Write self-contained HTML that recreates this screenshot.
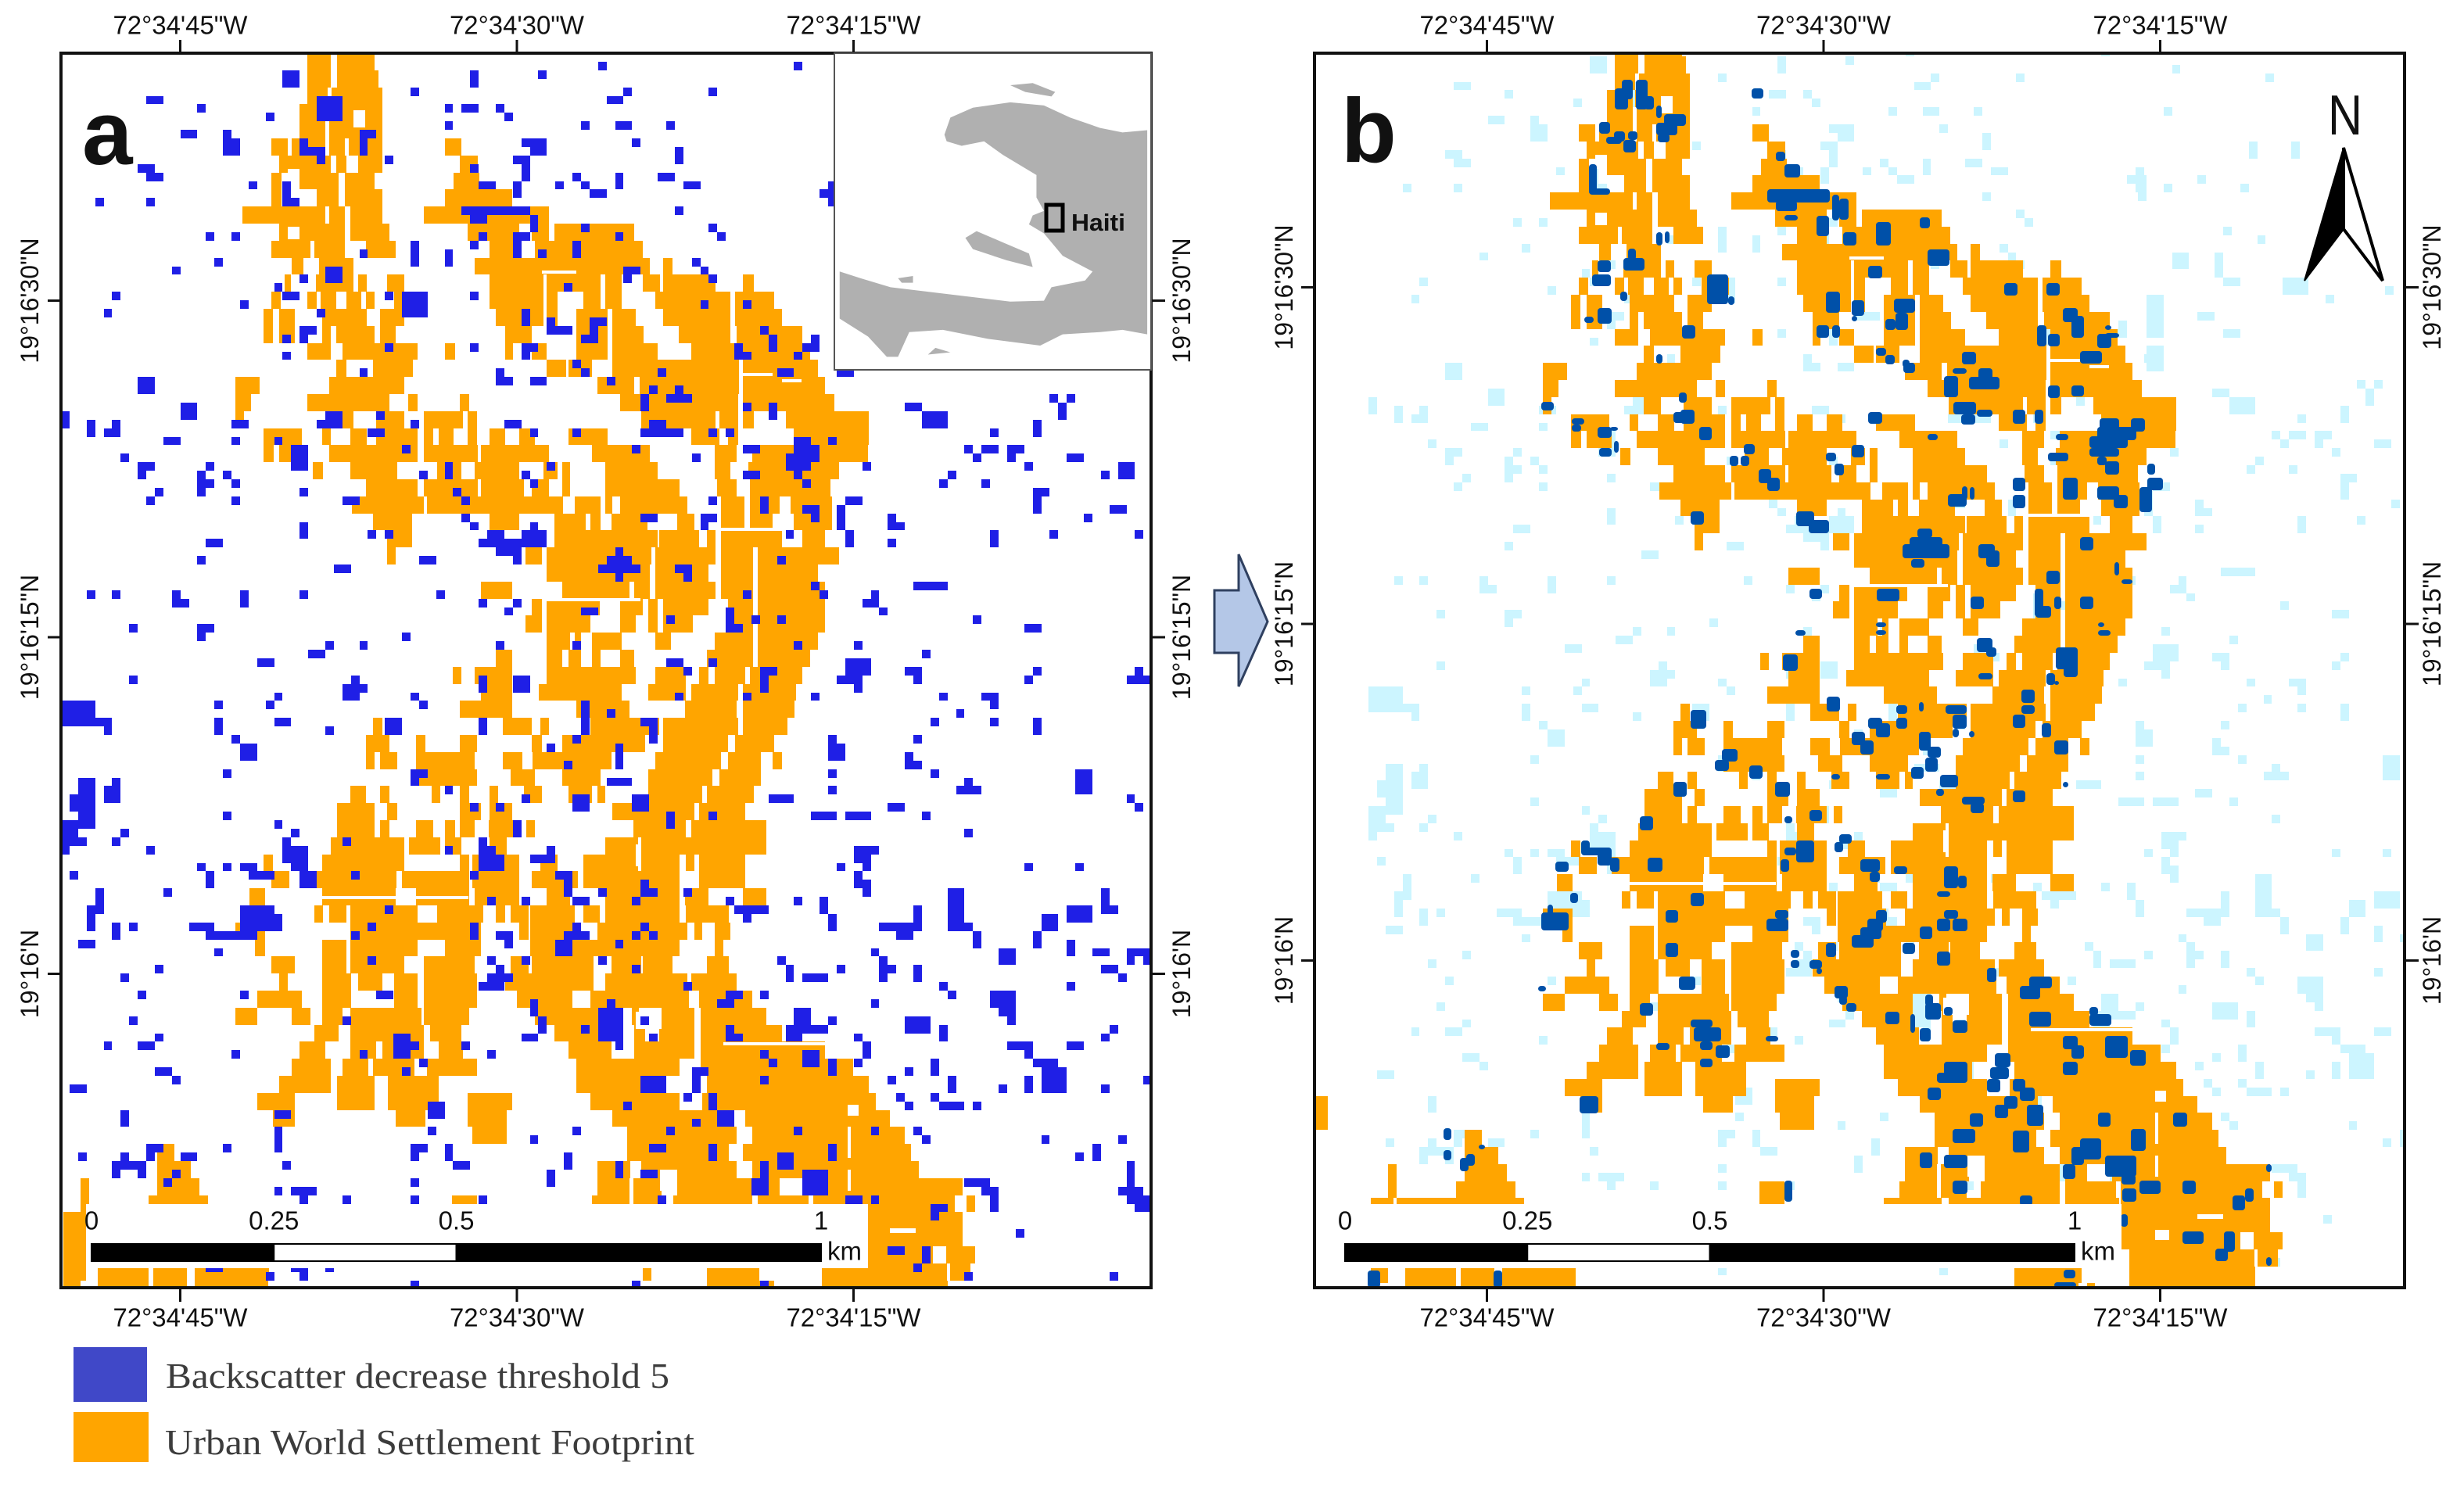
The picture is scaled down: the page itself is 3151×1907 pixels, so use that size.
<!DOCTYPE html>
<html lang="en">
<head>
<meta charset="utf-8">
<title>Backscatter decrease and urban footprint maps</title>
<style>
html,body{margin:0;padding:0;background:#fff}
svg{display:block}
text{font-family:"Liberation Sans",sans-serif;fill:#111}
.serif{font-family:"Liberation Serif",serif;fill:#3c3c3c}
</style>
</head>
<body>
<svg id="figure" xmlns="http://www.w3.org/2000/svg" width="3151" height="1907" viewBox="0 0 3151 1907">
  <rect width="3151" height="1907" fill="#fff"/>
  <defs>
    <clipPath id="clip-a"><rect x="78" y="68" width="1394" height="1579"/></clipPath>
    <clipPath id="clip-b"><rect x="1681" y="68" width="1394" height="1579"/></clipPath>
  </defs>
  <g id="panel-a"></g>
  <g id="panel-b"></g>

  <g>
    <rect x="1067" y="68" width="405" height="405" fill="#fff" stroke="#555" stroke-width="2"/>
    <g transform="scale(0.957,0.574)" fill="#b0b0b0">
      <polygon points="1262,300 1270,262 1300,240 1350,228 1395,235 1430,262 1470,285 1500,295 1533,290 1533,745 1500,735 1470,740 1420,745 1390,770 1320,755 1260,735 1215,740 1200,795 1185,795 1160,750 1122,710 1122,605 1150,620 1190,640 1240,650 1290,660 1350,672 1395,670 1405,640 1450,625 1460,605 1420,570 1395,520 1375,500 1380,480 1395,470 1385,440 1385,390 1340,345 1315,315 1285,325 1265,315"/>
      <polygon points="1290,530 1305,515 1340,540 1375,565 1380,595 1345,580 1300,555"/>
      <polygon points="1350,190 1380,185 1410,205 1405,215 1370,205"/>
      <polygon points="1200,620 1220,615 1220,630 1205,630"/>
      <polygon points="1250,775 1270,785 1240,790"/>
    </g>
    <rect x="1338" y="262" width="21" height="33" fill="none" stroke="#000" stroke-width="5"/>
    <text x="1370" y="295" font-size="31" font-weight="700" textLength="69" lengthAdjust="spacingAndGlyphs" fill="#222">Haiti</text>
  </g>

  <text x="105" y="210" font-size="116" font-weight="700" fill="#000">a</text>
  <text x="1715" y="207" font-size="116" font-weight="700" fill="#000">b</text>

  <g>
    <text x="2977" y="172" font-size="72" textLength="44" lengthAdjust="spacingAndGlyphs" fill="#000">N</text>
    <polygon points="2997,189 2947,359 2997,293" fill="#000" stroke="#000" stroke-width="2"/>
    <polygon points="2997,189 3047,359 2997,293" fill="#fff" stroke="#000" stroke-width="4"/>
  </g>

  <polygon points="1553,755 1584,755 1584,709 1621,795 1584,878 1584,835 1553,835" fill="#b4c7e7" stroke="#2f4060" stroke-width="3"/>

  <g>
    <rect x="94" y="1723" width="94" height="70" fill="#4048c8"/>
    <text class="serif" x="212" y="1775" font-size="46" textLength="644" lengthAdjust="spacingAndGlyphs">Backscatter decrease threshold 5</text>
    <rect x="94" y="1806" width="96" height="64" fill="#ffa500"/>
    <text class="serif" x="211" y="1860" font-size="46" textLength="677" lengthAdjust="spacingAndGlyphs">Urban World Settlement Footprint</text>
  </g>

  <script>
  // ---- chart data -------------------------------------------------------
  const lonSeconds = [45, 30, 15];
  const lonLabels = ['72°34\'45"W', '72°34\'30"W', '72°34\'15"W'];
  const latSeconds = [30, 15, 0];
  const latLabels = ['19°16\'30"N', '19°16\'15"N', '19°16\'N'];
  const scaleKm = [0, 0.25, 0.5, 1];
  const scaleLabels = ['0', '0.25', '0.5', '1'];

  // Urban footprint: [gridRow, startCol, endCol, startCol, endCol, ...], each band two rows tall
  const urbanBands = [
  [0,29.6,32.4,33.1,37.5],[2,29.6,32.4,33.1,38],[4,29.6,32,32.5,38.4],[6,28.7,31.7,32,38.4],[8,28.7,31.7,32.2,38.4],
  [10,25.4,27.3,27.8,31.7,32.2,34,34.5,38.4,45.8,47.7],[12,26.3,32.4,33,34.2,35.6,38.4,47.5,49.6],[14,25.4,26.6,28.7,33.3,34,37.5,46.8,49.8],
  [16,25.4,26.6,30.7,33.3,34,38.4,45.8,53.7],[18,22,24,24,31.7,32.2,34,34.7,38.4,43.3,47.7,47.5,58],[20,26.3,34,34.7,39.3,48.4,54.5,56,58,58.6,68],
  [22,25.4,30,30.5,34,36.5,40,51,54.5,56.3,69],[24,27.8,29.2,31,35,49.3,69.8,71.4,72.5],
  [26,27,27.7,30.6,35,35.6,36.6,39,41,51,57.3,57.7,64,64.6,66.5,69,71,71.4,77.5,80.7,82],
  [28,25.4,26.5,29.6,30.7,31.2,33,34.2,36,36.5,37.5,39.8,43,51,57.3,57.7,59,62,64,64.6,66.5,70.5,79.3,79.8,84.4],
  [30,24.5,25.6,26.3,28.2,31.4,36.6,38.2,41,51.7,57.3,57.7,59,61.2,64.9,65.4,68.2,71.4,79.3,79.8,85.3],
  [32,24.5,25.6,26.3,28.2,31.4,32.4,33,37.5,38.2,40,52.8,56,61.2,64.9,65.4,69.1,73.2,79.3,80,87.7],
  [34,29.6,32.4,33.8,42.6,45.8,47,52.8,53.8,56,57.7,61.2,64.9,65.4,70.7,74.7,80.3,80.7,88.6],
  [36,33,34.2,37.3,42,57.7,60,60.3,63,65.4,80.3,80.7,89.5],[38,21.2,24,32.2,41,63.7,68,68.6,80.3,80.7,90.4],
  [40,21.2,23,29.6,39.3,41.5,42.6,47.5,48.6,66.3,80.2,80.7,91.5],[42,21.2,22.2,33,35,37.7,41,43.3,47.9,48.4,49.5,68.8,77.5,78,80.2,80.7,82,85.8,95.5],
  [44,24.5,29,31.4,32.4,34.7,36.6,37.7,42.6,43.3,44.4,45,46.8,48.4,49.5,51,52.8,54.5,56.3,60.3,64.9,74.7,78,79,80.2,86.7,95.5],
  [46,24.5,25.7,26.3,29.3,32.2,42.6,43.3,49.6,50,58,63,69.8,77.4,80,81.8,95.4],
  [48,30.3,31.5,34.7,40.2,44.9,47.7,49.3,54.5,57.3,59,59.5,60.5,64.6,70.7,77.4,79.3,81.4,92],
  [50,36.5,42.6,43.3,49.6,50,55,56,58,59.5,60.5,64.6,73.3,77.7,80,81.6,91],
  [52,34.9,43.3,43.7,59.6,61,64,64.6,65.4,66.3,74.2,78.2,80.9,81.6,85,86.3,91.2],
  [54,37.3,41.9,51,54.5,58.6,62.3,62.8,64,65.3,69.5,73,75,78.2,80.9,81.6,84.2,86.7,91.2],
  [56,39,41.9,58.6,70.7,70.9,75.6,76.5,77.5,78.2,85.3,87.7,90.4],[58,39,40,55.2,57.2,57.7,70,70.5,77.5,78.2,81.9,82.5,92],
  [60,57.7,69.8,70.5,76.7,78.2,81.9,82.5,89.5],[62,50,53.7,59.5,67.4,68,69.8,70.5,77.5,78.2,81.9,82.5,90.4],
  [64,56,57.2,57.7,63.9,66.3,69,69.6,70.7,71.4,76.7,79,81.9,82.5,90.4],[66,55.2,57.2,57.7,62.8,66.3,68.2,69.6,70.7,71.4,74.9,79,81.9,82.5,90.4],
  [68,57.7,60.5,61,61.7,63,66.5,70.5,72.3,77.4,81.9,82.5,89.5],[70,51.7,53.7,57.7,59.5,60.3,61.7,63,64,66.3,68,76.5,81.9,82.5,88.6],
  [72,46.7,47.7,49.3,53.7,57.7,68.2,70.5,74,75.6,76.7,77.4,81,81.6,87.7],[74,50,53.7,56.8,66.5,69.6,74,74.7,80.2,80.7,87],
  [76,47.5,53.7,61.2,67.4,73.9,80,80.7,86.8],[78,37.3,38.4,52.6,56,57,58,62.8,70.9,71.4,80.2,80.7,86],
  [80,36.5,39.3,42.4,43.5,47.5,49.5,56,57.2,59.5,69.3,71.4,79,79.8,84.4],
  [82,36.5,37.5,38.2,40.2,42.4,49.3,52.6,54.9,56.1,60,60,65.3,70.5,78.2,79,82.8,84.2,85.3],
  [84,42.4,49.5,53.5,56.3,59.5,64,69.6,77.2,78,82.8],[86,34.7,36.5,38.2,39.3,44.2,45.2,47.5,48.6,51,52,55,57.2,60.3,63,63.7,64.6,69.6,76,76.5,82],
  [88,33.1,37.5,39,40.2,47.5,50,51,53.7,65.4,75,75.6,81],[90,33.1,37.5,38.2,39.3,42.4,44.4,45.8,47,47.5,49.3,50.9,54.5,55.3,56.3,67.9,74,74.7,83.5],
  [92,32.4,41,41.6,45.2,45.8,47.7,51,53,64.6,68.4,68.8,83.5],[94,24.5,25.6,31.4,41,47.5,48.6,49,54.5,57,59,62,68.4,68.8,73.3,74,75,75.6,81],
  [96,25.4,27.5,29.3,40.1,40.7,48.6,49,54.5,56,61.4,62,73.3,75.6,81],[98,22.8,24.7,31.4,40,42.4,48.6,49.3,54.5,57.7,60.5,64.6,73.3,73.9,76.7,80.7,83.5],
  [100,30.5,31.5,32.2,34.2,34.7,42.6,44.9,50.3,51.7,52.8,53.5,55.6,55.8,61,62,63.9,64.6,73.3,74,76.8,76.7,79.1],
  [102,21.2,24.7,34.7,44.2,44.2,50,54.5,55.6,55.8,61.5,63.7,74.2,75,76,77.4,79.3],[104,23.5,24.7,31.4,34.2,34.7,42.6,45.8,50,55.8,73.3,77.4,78.4],
  [106,25.4,28.2,31.4,34.2,34.7,41,43.3,49.3,53.5,55.6,56,63.2,65.3,68.8,69,72.5,76.5,79.1],
  [108,26.3,27.3,31.4,34.8,35.6,38.4,39.8,42.6,43.3,49.5,52.8,58,58,63.2,64.6,74.2,74.7,80],
  [110,23.8,29,31.4,34.8,39.8,42.6,43.3,49.5,54.2,60.7,62.8,74.4,75.6,81.8],
  [112,21.2,23.8,27.8,30,31.4,33.8,34.7,43,43.3,48.6,56.3,64.6,67.7,68.5,71.2,75,75.8,83.5],
  [114,30.5,33.3,34.7,43.3,44,47.7,58.6,64.6,68,69.3,70.9,75,75.8,85.3],[116,28.7,31.7,34.7,37.7,38.4,43.3,45,47.9,60.3,65.3,68,75,75.8,90.4],
  [118,27.8,32.4,33.8,36.8,37.3,42.2,43.7,49.5,61.2,73.3,75.8,93.7],[120,26.3,32.4,33.1,37.5,39.1,45,61.2,71.6,76.5,95.5],
  [122,23.8,28.2,33.1,37.5,39.1,45,48.4,53.7,62.8,73.3,76,96.3],[124,-6,-4,25.6,28.2,40,43.5,48.4,53,65.4,79.3,81,98],
  [126,-6,-4,49,53,67.2,80,81.8,99.7],[128,12,14,67.2,79.1,80.7,100.5],[130,12,16,63.7,67.5,68.8,80,81.8,101.4],
  [132,3,4,12,17,63.7,67.4,67.9,71.2,73,81.8,82.5,85,88,106.5],[134,3,4,11,18,46.6,49.5,63,67.4,67.9,70.9,72.6,81.8,82.5,88.4,89,105.6,107,108],
  [136,1,3.7,4,19,46.6,49.5,61.2,68,68.8,81.8,82.5,88.8,89,106.5],[138,1,3.7,89,106.5],[140,1,3.7,89,103,104.6,108],
  [142,1,3.7,5,11,11.6,15.5,16.4,25.1,69,70,76.5,82.7,90,102.4,102.4,104.7,105,107.4],[144,1,3,5,11,11.6,15.5,16.4,25,76.5,84.4,90,104.8],
  [146,5,11,11.6,15.5,16.4,25,76.5,84,85,86,90,104.8]
  ];

  // Road gaps and holes through the footprint: [col, row, widthCols, heightRows]
  const roadGaps = [[57.2,25.5,4,.4],[80.7,37.5,3.5,.35],[85.3,38.3,2.3,.35],[78.2,55.7,7.5,.4],[57.7,63.9,11,.4],[30.5,98.9,18,.4],[78.4,116.1,12,.35],[93,126,.35,3.6],[93,131,.35,2.5],[68.2,92.8,.4,2.6],[93,123.4,1.3,1.3],[68.2,112.5,3,2],[71,131,2,2.5],[93,139.7,1.7,1.2],[98,137.9,3,.5],[27.3,20.4,1.4,1.4],[35,6.7,1.4,2],[27.3,13.6,1.4,1.6]];

  // Backscatter decrease cells: [col, row, widthCols, heightRows]
  const decreaseCells = [
  [26,2,2,2],[10,5,2,1],[30,5,3,3],[41,4,1,1],[48,2,1,2],[56,2,1,1],[63,1,1,1],[86,1,1,1],[66,4,1,1],[64,5,2,1],[76,4,1,1],[16,6,1,1],[24,7,1,1],[45,6,1,1],[47,6,2,1],[51,6,1,1],[52,7,1,1],[45,8,1,1],[61,8,1,1],[65,8,2,1],[71,8,1,1],[14,9,2,1],[19,9,1,1],[19,10,2,2],[35,9,2,1],[35,10,1,2],[28,10,1,1],[28,11,3,1],[30,12,1,1],[54,10,2,1],[56,10,1,2],[55,11,2,1],[67,10,1,1],[72,11,1,2],[38,12,1,1],[53,12,2,1],[54,13,1,1],[48,13,1,1],[9,13,2,1],[10,14,2,1],[22,15,1,1],[26,15,1,3],[26,17,2,1],[4,17,1,1],[10,17,1,1],[54,14,1,1],[53,15,1,2],[49,15,2,1],[58,15,1,1],[60,14,1,1],[61,15,1,1],[62,16,2,1],[65,14,1,2],[70,14,2,1],[73,15,2,1],[90,15,1,3],[89,16,1,1],[72,18,1,1],[47,18,8,1],[48,19,2,1],[55,19,1,2],[76,20,1,1],[77,21,1,1],[61,20,1,1],[53,21,2,1],[53,22,1,2],[49,21,1,1],[48,22,1,1],[65,21,1,1],[17,21,1,1],[20,21,1,1],[41,22,1,3],[45,23,1,2],[60,22,1,2],[56,23,1,1],[35,23,1,1],[18,24,1,1],[13,25,1,1],[74,24,1,1],[75,25,1,1],[76,26,1,1],[66,25,2,1],[66,26,1,1],[31,25,2,2],[28,26,1,1],[25,27,1,1],[6,28,1,1],[5,30,1,1],[26,28,2,1],[38,28,1,1],[40,28,3,3],[48,28,1,1],[59,27,1,1],[21,29,1,1],[30,30,1,1],[54,30,1,2],[75,29,1,1],[80,29,1,1],[62,31,2,1],[62,32,1,2],[57,31,1,2],[57,32,3,1],[61,33,1,1],[28,32,2,1],[28,33,1,1],[26,33,1,1],[82,32,1,1],[83,33,1,2],[38,34,1,1],[48,34,1,1],[54,34,2,1],[54,35,1,1],[79,34,1,2],[80,35,1,1],[88,33,1,1],[87,34,2,1],[86,35,1,1],[26,35,1,1],[60,36,1,1],[61,37,1,1],[64,38,1,1],[70,37,1,1],[35,37,1,1],[84,37,2,1],[91,37,2,1],[51,37,1,2],[51,38,2,1],[55,38,2,1],[9,38,2,2],[68,40,1,2],[69,39,1,1],[72,39,1,1],[71,40,3,1],[99,41,2,1],[116,40,1,1],[118,40,1,1],[117,41,1,2],[14,41,2,2],[80,41,1,1],[83,41,1,2],[37,42,1,1],[31,42,2,1],[30,43,3,1],[101,42,3,2],[0,42,1,2],[3,43,1,2],[6,43,1,1],[5,44,2,1],[20,43,2,1],[41,43,1,1],[52,43,2,1],[114,43,1,2],[69,43,2,1],[68,44,5,1],[36,44,2,1],[55,44,1,1],[60,44,1,1],[76,44,1,1],[78,44,1,1],[109,44,1,1],[12,45,2,1],[20,45,1,1],[25,45,1,1],[86,45,2,1],[86,46,3,2],[90,45,1,1],[85,47,3,2],[86,49,1,1],[27,46,2,3],[40,46,1,1],[67,46,1,1],[80,46,2,1],[106,46,1,1],[107,47,1,1],[108,46,2,1],[111,46,2,1],[111,47,1,1],[7,47,1,1],[74,47,1,1],[118,47,2,1],[9,48,2,1],[9,49,1,1],[17,48,1,1],[16,49,1,3],[17,50,1,1],[19,49,1,1],[20,50,1,1],[45,48,1,2],[57,48,1,1],[94,48,1,1],[113,48,1,1],[124,48,2,2],[80,49,2,1],[42,49,1,1],[54,49,1,1],[55,50,1,1],[104,49,1,1],[103,50,1,1],[122,49,1,1],[108,50,1,1],[87,50,1,1],[11,51,1,1],[10,52,1,1],[28,51,1,1],[46,51,1,1],[114,51,2,1],[114,52,1,2],[20,52,1,1],[33,52,2,1],[47,52,1,1],[76,52,1,1],[82,52,1,2],[92,52,2,1],[91,53,1,3],[123,53,2,1],[87,53,2,1],[88,54,1,1],[68,54,2,1],[75,54,2,1],[75,55,1,1],[47,54,1,1],[97,54,1,1],[97,55,2,1],[120,54,1,1],[48,55,1,1],[55,55,1,1],[54,56,3,2],[50,56,2,1],[49,57,5,1],[51,58,3,1],[53,59,1,1],[36,56,1,1],[38,56,1,1],[28,55,1,2],[85,56,1,1],[92,56,1,2],[97,57,1,1],[109,56,1,2],[116,56,1,1],[126,56,1,1],[17,57,2,1],[65,58,1,1],[64,59,3,1],[63,60,5,1],[65,61,1,1],[72,60,2,1],[73,61,1,1],[84,59,1,1],[16,59,1,1],[42,59,2,1],[32,60,2,1],[88,62,1,1],[89,63,1,1],[100,62,4,1],[3,63,1,1],[6,63,1,1],[13,63,1,1],[13,64,2,1],[21,63,1,2],[28,63,1,1],[44,63,1,1],[80,63,1,1],[95,63,1,1],[94,64,2,1],[53,64,1,1],[49,64,1,1],[52,65,1,1],[61,65,2,1],[78,65,1,2],[78,67,2,1],[96,65,1,1],[71,66,1,1],[81,66,1,1],[84,66,1,1],[107,66,1,1],[8,67,1,1],[16,67,2,1],[16,68,1,1],[113,67,2,1],[40,68,1,1],[31,69,1,1],[29,70,2,1],[35,69,1,1],[51,69,1,1],[60,69,1,1],[86,69,1,1],[93,69,1,1],[101,70,1,1],[23,71,2,1],[71,71,2,1],[73,72,1,1],[76,71,1,1],[92,71,3,2],[91,73,3,1],[93,74,1,1],[82,72,2,1],[82,73,1,2],[99,72,2,1],[100,73,1,1],[114,72,1,1],[113,73,1,1],[126,72,1,1],[125,73,3,1],[8,73,1,1],[34,73,1,1],[33,74,3,1],[33,75,2,1],[49,73,1,2],[53,73,2,2],[25,75,1,1],[41,75,1,1],[42,76,1,1],[72,75,1,1],[80,75,1,1],[88,75,1,1],[103,75,1,1],[108,75,2,1],[109,76,1,1],[2,76,2,1],[18,76,1,1],
  [0,76,4,3],[4,78,2,1],[5,79,1,1],[18,78,1,2],[24,76,1,1],[25,78,2,1],[31,79,1,1],[38,78,2,2],[49,78,1,2],[61,76,1,4],[64,77,1,1],[68,78,2,1],[69,79,1,2],[60,80,1,1],[20,80,1,1],[21,81,2,2],[90,81,2,2],[90,80,1,1],[114,78,1,2],[105,77,1,1],[102,78,1,1],[109,78,1,1],[100,80,1,1],[99,82,1,2],[100,83,1,1],[102,84,1,1],[57,81,1,1],[59,83,1,1],[65,81,1,3],[19,84,1,1],[90,84,1,1],[41,84,2,1],[41,85,1,1],[64,85,3,1],[2,85,2,6],[1,87,1,2],[5,86,2,2],[6,85,1,1],[106,85,1,1],[105,86,3,1],[119,84,2,3],[90,86,1,1],[45,86,1,1],[83,87,2,1],[85,87,1,1],[60,87,2,2],[67,87,2,2],[54,87,1,1],[48,88,1,1],[51,88,1,1],[125,87,1,1],[126,88,1,1],[19,89,1,1],[88,89,3,1],[92,89,3,1],[97,88,2,1],[101,89,1,1],[71,89,1,2],[76,89,1,1],[53,90,1,1],[25,90,1,1],[27,91,1,1],[26,92,1,1],[7,91,1,1],[6,92,1,1],[0,90,2,2],[0,92,3,1],[0,93,1,1],[10,93,1,1],[33,92,1,1],[53,91,1,1],[49,92,1,2],[106,91,1,1],[93,93,3,1],[93,94,2,1],[91,95,1,1],[94,95,1,1],[45,93,1,1],[56,94,2,1],[57,93,1,1],[55,94,1,1],[26,93,3,2],[27,95,2,1],[28,96,2,2],[49,94,3,2],[50,93,1,1],[113,95,1,1],[119,95,1,1],[16,95,1,1],[17,96,1,2],[19,95,1,1],[21,95,2,1],[22,96,3,1],[1,96,1,1],[34,96,1,1],[48,96,1,1],[58,96,2,1],[59,97,1,2],[93,96,1,2],[94,97,1,2],[60,99,2,1],[63,98,1,1],[68,97,1,2],[69,98,1,1],[73,98,1,1],[4,98,1,3],[3,100,1,3],[12,98,1,1],[54,99,1,1],[67,99,1,1],[50,99,1,1],[78,99,1,1],[79,100,4,1],[80,101,1,1],[86,99,1,1],[89,99,1,2],[90,101,1,2],[104,98,2,4],[104,102,3,1],[107,103,1,2],[122,98,1,3],[123,100,1,1],[118,100,3,2],[115,101,2,2],[114,103,1,2],[100,100,1,2],[96,102,5,1],[98,103,2,1],[118,104,1,2],[21,100,4,1],[21,101,5,2],[15,102,3,1],[17,103,2,1],[18,103,5,1],[18,105,1,1],[38,100,1,1],[6,102,1,2],[8,102,1,1],[36,102,1,1],[48,102,1,2],[34,103,1,1],[51,103,2,1],[52,104,1,1],[59,103,2,1],[60,102,1,1],[58,104,2,2],[67,103,1,1],[69,103,1,1],[68,102,1,1],[61,103,1,1],[2,104,2,1],[65,104,1,1],[95,105,1,1],[96,106,1,1],[110,105,2,2],[121,105,2,1],[125,105,3,1],[125,106,1,1],[127,106,1,1],[36,106,1,1],[50,106,1,1],[54,106,1,1],[63,106,1,1],[84,106,1,1],[85,107,1,2],[11,107,1,1],[67,107,1,1],[91,107,1,1],[96,107,2,1],[96,108,1,1],[100,107,1,2],[122,107,2,1],[124,108,1,1],[51,107,1,1],[50,108,3,1],[49,109,3,1],[87,108,3,1],[7,108,1,1],[73,109,1,1],[103,109,1,1],[104,110,1,1],[118,109,1,1],[9,110,1,1],[21,110,1,1],[37,110,2,1],[78,110,2,1],[77,111,2,1],[82,110,1,1],[95,111,1,1],[109,110,3,2],[110,112,2,1],[111,113,1,1],[55,111,1,2],[56,113,1,2],[63,112,3,4],[64,111,1,1],[65,116,1,1],[86,112,2,2],[85,114,2,2],[87,114,2,1],[68,113,1,1],[90,113,1,1],[33,113,1,1],[8,113,1,1],[99,113,3,2],[103,114,1,2],[89,114,1,1],[78,114,1,1],[78,115,2,1],[61,114,1,1],[123,114,1,1],[122,115,1,1],[11,115,1,1],[9,116,2,1],[69,115,1,1],[54,115,2,1],[93,115,1,1],[94,116,1,2],[39,115,2,2],[39,117,2,1],[40,116,2,1],[5,116,1,1],[47,116,1,1],[111,116,3,1],[113,117,1,1],[118,116,2,1],[20,117,1,1],[35,117,1,1],[50,117,1,1],[82,117,1,1],[83,118,1,1],[87,117,2,2],[114,118,3,1],[115,119,3,3],[93,118,1,1],[90,118,1,2],[42,118,1,1],[40,119,1,1],[11,119,2,1],[13,120,1,1],[74,119,2,1],[74,120,1,2],[99,119,1,1],[102,118,1,2],[104,120,1,2],[82,120,1,1],[97,120,1,1],[127,120,1,1],[68,120,3,2],[73,122,1,1],[1,121,2,1],[110,121,1,1],[113,120,1,2],[122,121,1,1],[98,122,1,1],[99,123,1,1],[102,122,1,1],[103,123,3,1],[107,123,1,1],[76,122,1,2],[66,123,1,1],[43,123,2,2],[25,124,2,1],[7,124,1,2],[74,125,1,1],[77,124,2,2],[100,126,1,1],[101,127,1,1],[43,126,1,1],[60,126,1,1],[71,126,1,1],[86,126,1,1],[95,126,1,1],[25,126,1,3],[115,127,1,1],[124,127,1,1],[55,127,1,1],[41,128,2,1],[41,129,1,1],[10,128,2,1],[10,129,1,1],[19,128,1,1],[69,128,2,1],[45,128,1,2],[76,128,1,2],[90,128,1,2],[14,129,2,1],[2,129,1,1],[7,129,1,1],[6,130,4,1],[6,131,1,1],[9,131,1,1],[84,129,2,2],[59,129,1,2],[121,128,1,2],[119,129,1,1],[46,130,2,1],[82,130,1,2],[81,132,2,2],[26,130,1,1],[65,130,1,2],[68,131,2,1],[87,131,3,3],[125,130,1,3],[124,133,3,1],[125,134,3,1],[126,135,2,1],[13,131,1,1],[12,132,1,1],[57,131,1,2],[41,132,1,1],[106,132,3,1],[108,133,2,1],[109,134,1,2],[27,133,3,1],[28,134,1,1],[25,133,1,1],[33,134,1,1],[41,134,1,1],[49,134,1,1],[70,134,1,1],[92,134,2,1],[95,134,1,1],[102,135,2,1],[102,136,1,1],[112,138,1,1],[97,140,2,1],[101,140,1,2],[100,142,1,1],[17,142,2,1],[27,142,2,1],[28,143,1,1],[31,142,1,1],[24,143,1,1],[106,143,1,1],[123,143,1,1],[41,144,1,1],[67,144,1,1],[82,144,1,1]
  ];

  // Decrease cells that the inset hides in panel a but panel b shows
  const insetHiddenCells = [[95,3,1,1],[106,4,1,1],[94,8,1,1],[91,16,1,3],[94,17,1,1],[98,16,1,1],[103,17,1,1],[104,12,1,2],[109,12,1,2],[101,22,1,1],[105,23,1,1],[95,25,2,2],[100,25,1,3],[101,28,2,1],[108,28,3,2],[113,30,1,1],[120,29,1,1],[92,30,2,5],[98,32,2,1],[101,34,2,1],[92,36,2,3]];

  // Decreases intersecting the urban footprint in panel b: [col, row, widthCols, heightRows]
  const urbanDamageBlobs = [
  [30.5,4.8,1.2,2.3],[29.6,5.8,1.6,2.5],[32.1,4.8,1.4,3.5],[33.1,6.7,1.1,1.6],[34.5,7.8,.6,1.5],[35.4,8.8,2.6,1.4],[34.5,9.8,2.5,1.5],[34.7,11.1,1.4,1],[27.8,9.7,1.3,1.4],[28.6,11.5,1.9,.8],[29.5,10.8,1.3,1.2],[31.2,10.8,1.1,1],[30.6,11.8,1.5,1.5],[26.6,14.7,.9,3.4],[26.6,17.5,2.5,.8],[48.5,13.2,1.1,1.1],[49.5,14.7,1.9,1.5],[47.5,17.6,7.4,1.6],[48.5,19,2.5,1.2],[49.5,20.6,1.6,.7],[55.1,18.3,.9,3],[56,18.7,1.1,2.5],[53.3,20.7,1.5,2.4],[56.4,22.7,1.6,1.5],[60.3,21.5,1.7,2.7],[65.4,20.9,1.2,1.3],[66.3,24.7,2.6,1.9],[45.7,5.8,1.4,1.2],[34.5,22.7,.7,1.5],[35.5,22.6,.6,1.3],[31.2,24.6,.9,1.4],[30.6,25.7,2.5,1.5],[27.6,26,1.6,1.3],[27,27.6,2.2,1.4],[30.3,29.6,.8,1.1],[40.5,27.6,2.4,3.5],[42.9,30.2,.8,1],[27.6,31.6,1.7,1.8],[26.1,32.6,1.1,.7],[37.5,33.6,1.6,1.5],[34.5,37,.7,1.1],[54.4,29.6,1.7,2.5],[57.4,30.6,1.5,1.9],[57.4,32.5,.7,.6],[62.4,30.5,2.5,1.6],[62.6,32.1,1.4,2],[61.4,32.8,1.2,1.3],[53.3,33.6,1.5,1.4],[55.1,33.6,1,1.4],[60.3,36.2,1.2,1],[61.4,37.1,1.1,1.1],[63.4,37.6,.8,.9],[63.5,38,1.4,1.2],[70.4,36.7,1.6,1.5],[69.3,38.6,1.6,.7],[68.3,39.5,1.6,2.5],[72.3,38.6,1.6,1.4],[71.2,39.6,3.6,1.5],[69.4,42.6,2.6,1.4],[70.3,44,1.6,1.2],[72.1,43.5,1.8,.8],[59.4,43.8,1.6,1.3],[66.3,46.3,1.2,.8],[37.2,41.5,.9,1.2],[36.5,43.8,1.2,1.2],[37.3,43.5,1.7,1.6],[39.5,45.5,1.5,1.6],[21,42.6,1.5,1],[24.6,44.5,1.5,.7],[24.6,45.2,1.1,.9],[27.6,45.5,1.7,1.3],[29.1,45.5,.9,.5],[29.5,47.2,.6,1.3],[27.8,48,1.5,1],[44.8,47.5,1.3,1.2],[43.1,48.9,1,1.2],[44.4,48.9,1,1.2],[54.4,48.5,1.2,1],[55.4,49.8,1.1,1.4],[57.4,47.6,1.5,1.5],[46.5,50.5,1.5,1.6],[47.5,51.5,1.5,1.5],[70.4,52.5,.6,1.5],[68.7,53.4,2.2,1.5],[71.3,52.6,.5,1.4],
  [75.3,28.6,1.6,1.5],[80.3,28.6,1.5,1.5],[82.2,31.6,1.7,1.6],[83.2,32.5,1.5,2.5],[79.2,33.6,1.1,2.5],[80.5,34.6,1.3,1.5],[87.2,33.6,.7,.5],[86.2,34.6,1.7,1.6],[87.2,34.5,1.6,.5],[84.2,36.6,2.6,1.5],[80.5,40.6,1.3,1.5],[83.2,40.6,1.5,1.3],[76.3,43.5,1.5,1.6],[78.9,43.5,1,1.6],[86.5,44.5,2.3,2.1],[90.2,44.5,1.6,1.6],[86.2,45.5,4.6,1.6],[85.3,46.6,4.5,1.4],[85.3,48,3.5,1],[86.2,49,1.1,1],[87.2,49.5,1.6,1.6],[81.4,46.3,1.4,.8],[80.5,48.5,2.3,1],[92.1,49.8,.9,1.3],[92.1,51.5,1.8,1.4],[91.2,52.6,1.5,2.9],[82.2,51.5,1.7,2.5],[86.2,52.5,2.6,1.5],[88.2,53.5,1.6,1.5],[76.3,51.5,1.5,1.5],[76.3,53.5,1.5,1.5],[59.4,26.6,1.6,1.5],
  [38.5,55.4,1.6,1.6],[50.9,55.4,2.1,1.8],[52.4,56.4,2.4,1.6],[65.1,57.4,1.8,1.1],[64.2,58.4,3.9,1.2],[63.4,59.3,5.5,1.6],[64.4,61,1.6,1],[72.3,59.3,1.9,1.6],[73.2,60,1.6,1.9],[84.2,58.4,1.6,1.6],[80.3,62.4,1.5,1.5],[88.3,61.4,.5,1.5],[89.1,63.4,1.3,.5],[78.9,64.5,1,3.3],[79,66.5,1.8,1.4],[81.2,65.4,.8,1.5],[84.2,65.4,1.6,1.5],[71.4,65.4,1.5,1.5],[60.4,64.5,2.6,1.5],[86.3,68.4,.8,.6],[86.3,69.4,1.5,.6],[60.3,68.4,1.2,.6],[60.3,69.4,1.2,.5],[50.8,69.4,1.2,.6],[72.1,70.3,1.8,1.6],[73.2,71.4,1.2,1.1],[81.4,71.4,2.5,2.5],[82.3,73.3,1.6,1.6],[80.3,74.4,1,1.4],[81.2,75.3,.5,.5],[72.3,74.4,1.6,.7],[77.3,76.3,1.6,1.6],[77.3,78.2,1.6,1],[76.3,79.3,1.5,1.5],[79.7,80.3,1.1,1.6],[81.2,82.3,1.6,1.6],[68.4,78.2,2.5,1],[69.3,79.3,1.6,1.6],[69.3,80.9,.7,1],[71.2,81.2,.6,.7],[65.3,81.3,1.4,2.2],[66.3,83,1.6,1.3],[66.1,84.3,1.4,1.7],[64.4,85.4,1.5,1.4],[60.3,86.2,1.6,.7],[67.8,86.3,2.1,1.5],[67.3,88,1,.8],[70.4,88.9,2.6,.9],[71.4,89.6,1.5,1.2],[76.3,88.2,1.5,1.3],[82.2,87.2,.6,.6],[62.7,78.2,1.2,1],[62.7,79.6,1.2,1.3],[65.3,77.8,.6,1.1],[59.4,79.6,1.6,1.3],[60.3,80.3,1.6,1.6],[57.4,81.3,1.6,1.5],[58.4,82.3,1.6,1.6],[54.5,77.2,1.6,1.7],[38.5,78.7,1.9,2.2],[49.4,72.2,1.7,1.9],[52.5,64.5,1.4,1.2],[42.2,83.3,1.8,1.5],[41.4,84.6,1.6,1.3],[45.4,85.2,1.6,1.6],[36.5,87.2,1.6,1.7],[48.4,87.2,1.8,1.7],[55,86.2,1.1,.7],[32.6,91.2,1.5,1.6],[49.5,91.2,1,.8],[52.5,90.5,1.4,1.2],[56,93.3,1.4,1.1],[55.4,94.2,1,1.2],[25.7,94,1,1.6],[25.7,94.9,3.4,.9],[27.6,94.9,1.7,2.1],[29.1,96.1,1.1,1.6],[22.7,96.5,1.5,1.2],[33.5,96.1,1.7,1.6],[50.9,94,2.1,2.6],[49.5,94.9,1.4,.9],[49.1,96.2,1,1.5],[58.4,96.2,2.3,1.5],[59.5,97.7,1.2,1.2],[62.4,97.1,1.5,.9],[68.3,97.1,1.6,2.5],[69.9,98.2,1,1.4],[67.4,100,1.6,.6],[38.5,100.2,1.6,1.5],[35.6,102.2,1.5,1.5],[24.4,100.2,.9,1.2],[21.7,101.6,.7,1.2],[21,102.5,3.2,2.1],[47.4,103.2,2.6,1.5],[48.4,102.2,1.6,1],[60.3,102.2,1.3,1.5],[59.3,103.2,1.8,1.5],[58.4,104.2,2.5,1.4],[57.4,105.1,2.6,1.5],[68.3,102.2,1.6,1],[67.4,103.2,1.6,1.5],[69.3,103.2,1.7,1.5],[65.4,104.1,1.5,1.5],[63.4,106.1,1.5,1.2],[67.4,107.1,1.6,1.6],[35.6,106.1,1.5,1.6],[54.4,106.1,1.2,1.6],[50.3,106.9,1,.9],[50.3,108.1,1,.9],[52.5,108.1,1.4,1],[53.3,109,.6,.7],
  [55.4,111.1,1.6,1.5],[56.8,113.1,1.2,1],[56,112.3,.9,1],[37.2,110,1.9,1.6],[32.6,113.1,1.5,1.5],[20.6,111.1,1,.6],[61.4,114.1,1.6,1.5],[64.3,114.4,.6,2.2],[66.1,112.1,.9,1.4],[66.1,113.1,1.8,1.9],[68.3,113.6,1,1],[69.3,115.1,1.7,1.5],[65.4,116.1,1.3,1.5],[38.5,115,2.6,1],[38.9,116,3.2,1.6],[39.6,117.6,1.5,1],[41.5,118.1,1.6,1.4],[39.6,119.6,1.5,1],[47.3,117,1.5,.6],[34.5,117.8,1.6,.8],[25.5,124,2.2,2.1],[68.3,120,2.7,2.5],[67.4,121.3,1.6,1.2],[66.3,123,1.6,1.5],[71.3,126.1,1.5,1.5],[69.3,127.9,2.6,1.6],[65.4,130.6,1.5,1.9],[68.3,130.9,2.7,1.6],[69.3,133.9,1.7,1.6],[49.5,133.9,1,2.5],
  [73.3,109,1.1,1.6],[78.3,110,2.6,1.4],[77.2,111.1,2.3,1.6],[78.3,114.1,2.5,1.8],[85.3,114.4,2.6,1.4],[85.3,113.6,1,1],[82.2,117,1.7,1.5],[83.2,118.1,1.5,1.5],[82.2,120,1.7,1.6],[87.2,117,2.6,2.5],[90.1,118.6,1.8,1.9],[74.2,119,1.9,1.6],[73.7,120.6,2.2,1.4],[73.3,122,1.6,1.6],[76.3,122,1.5,1.5],[77.2,123,1.7,1.6],[75.3,124,1.6,1.5],[74.2,125,1.6,1.6],[78,125,1.9,2.5],[86.3,126,1.5,1.6],[95.1,126,1.7,1.6],[90.2,127.9,1.7,2.6],[84.2,129,2.5,2.5],[83.2,130,1.5,2.1],[82.2,132,1.5,1.8],[87.2,131,3.6,2.5],[89.1,133.2,1.6,1.2],[89.2,134.9,1.6,1.5],[91.2,133.9,2.5,1.6],[96.2,133.9,1.6,1.6],[76.3,128.1,2,2.5],[77.2,135.7,1.4,1.2],[103.6,134.9,1,1.5],[102.1,135.7,1.5,1.7],[106.1,132,.6,.9],[89,137.9,.8,1.5],[96.2,139.9,2.5,1.5],[101.1,139.9,1.3,2.4],[100.1,141.9,1.5,1.5],[106.1,142.9,.6,1],[82.3,144.4,1.4,1],[81.2,145.9,2.6,.6],[.6,144.5,1.5,2],[15.4,144.5,1,2],[9.5,127.8,1,1.4],[13.7,129.7,.7,.6],[9.5,130.4,1,1.2],[12.2,130.8,1,1.4],[11.5,131.3,1,1.5]
  ];

  // ---- scales and helpers -----------------------------------------------
  const CELL = 10.9;
  const panels = {
    a: { left: 78, top: 68, urbanX: 70, decreaseX: 78, mapY: 68, lonAt30: 661, latAt15: 815 },
    b: { left: 1681, top: 68, urbanX: 1742, decreaseX: 1750, mapY: 50, lonAt30: 2332, latAt15: 798 }
  };
  const PANEL_W = 1394, PANEL_H = 1579, PX_PER_SEC_X = 28.7, PX_PER_SEC_Y = 28.7;
  const SVGNS = 'http://www.w3.org/2000/svg';
  function colX(origin, c) { return origin + c * CELL; }
  function rowY(p, r) { return p.mapY + r * CELL; }
  function lonX(p, s) { return p.lonAt30 + (30 - s) * PX_PER_SEC_X; }
  function latY(p, s) { return p.latAt15 + (15 - s) * PX_PER_SEC_Y; }
  function kmX(p, km) { return p.left + 39 + km * 933; }
  function mk(tag, parent, attrs) {
    const e = document.createElementNS(SVGNS, tag);
    for (const k in attrs) e.setAttribute(k, attrs[k]);
    parent.appendChild(e);
    return e;
  }
  function cellRect(p, origin, parent, cell, fill, extra) {
    const x0 = Math.round(colX(origin, cell[0])), x1 = Math.round(colX(origin, cell[0] + cell[2]));
    const y0 = Math.round(rowY(p, cell[1])), y1 = Math.round(rowY(p, cell[1] + cell[3]));
    return mk('rect', parent, Object.assign({ x: x0, y: y0, width: Math.max(1, x1 - x0), height: Math.max(1, y1 - y0), fill: fill }, extra || {}));
  }

  function drawUrban(p, g) {
    urbanBands.forEach(function (b) {
      for (let i = 1; i < b.length; i += 2) {
        const u = cellRect(p, p.urbanX, g, [b[i], b[0], b[i + 1] - b[i], 2], '#ffa500', { 'shape-rendering': 'crispEdges' });
        
        
      }
    });
    roadGaps.forEach(function (d) {
      const w = cellRect(p, p.urbanX, g, d, '#fff');
      
      
    });
  }

  function drawAxes(key) {
    const p = panels[key], root = document.getElementById('panel-' + key);
    const right = p.left + PANEL_W, bottom = p.top + PANEL_H;
    const frame = mk('rect', root, { x: p.left, y: p.top, width: PANEL_W, height: PANEL_H, fill: 'none', stroke: '#111', 'stroke-width': 4 });
    
    
    lonSeconds.forEach(function (s, i) {
      const x = lonX(p, s);
      [[p.top - 17, p.top, 32], [bottom, bottom + 18, 1685]].forEach(function (t) {
        const tick = mk('line', root, { x1: x, x2: x, y1: t[0], y2: t[1], stroke: '#111', 'stroke-width': 3 });
        
        
        const lab = mk('text', root, { x: x, y: t[2], 'text-anchor': 'middle', 'dominant-baseline': 'central', 'font-size': 33, textLength: 172, lengthAdjust: 'spacingAndGlyphs' });
        lab.textContent = lonLabels[i];
        
        
      });
    });
    latSeconds.forEach(function (s, i) {
      const y = latY(p, s);
      const lx = key === 'a' ? 38 : 1642, rx = key === 'a' ? 1511 : 3110;
      [[p.left - 17, p.left, lx], [right, right + 18, rx]].forEach(function (t) {
        const tick = mk('line', root, { x1: t[0], x2: t[1], y1: y, y2: y, stroke: '#111', 'stroke-width': 3 });
        
        
        const lab = mk('text', root, { x: t[2], y: y, 'text-anchor': 'middle', 'dominant-baseline': 'central', 'font-size': 32, transform: 'rotate(-90 ' + t[2] + ' ' + y + ')' });
        lab.textContent = latLabels[i];
        
        
      });
    });
  }

  function drawScale(key) {
    const p = panels[key], root = document.getElementById('panel-' + key);
    const mask = mk('rect', root, { x: p.left + 32, y: 1540, width: 1000, height: 82, fill: '#fff' });
    
    
    for (let i = 0; i < scaleKm.length - 1; i++) {
      const x0 = kmX(p, scaleKm[i]), x1 = kmX(p, scaleKm[i + 1]);
      const seg = mk('rect', root, { x: x0, y: 1591, width: x1 - x0, height: 22, fill: i === 1 ? '#fff' : '#000', stroke: '#000', 'stroke-width': 2 });
      
      
    }
    scaleKm.forEach(function (km, i) {
      const lab = mk('text', root, { x: kmX(p, km), y: 1561, 'text-anchor': 'middle', 'dominant-baseline': 'central', 'font-size': 33 });
      lab.textContent = scaleLabels[i];
      
      
    });
    const unit = mk('text', root, { x: kmX(p, 1) + 8, y: 1600, 'dominant-baseline': 'central', 'font-size': 33 });
    unit.textContent = 'km';
    
    
  }

  // ---- panel a ----------------------------------------------------------
  (function () {
    const p = panels.a, root = document.getElementById('panel-a');
    const g = mk('g', root, { 'clip-path': 'url(#clip-a)' });
    drawUrban(p, g);
    decreaseCells.forEach(function (d) {
      const r = cellRect(p, p.decreaseX, g, d, '#1f1fe6', { 'shape-rendering': 'crispEdges' });
      
      
    });
    drawScale('a');
    drawAxes('a');
  })();

  // ---- panel b ----------------------------------------------------------
  (function () {
    const p = panels.b, root = document.getElementById('panel-b');
    const g = mk('g', root, { 'clip-path': 'url(#clip-b)' });
    decreaseCells.forEach(function (d) {
      const r = cellRect(p, p.decreaseX, g, d, '#ccf5ff', { 'shape-rendering': 'crispEdges' });
      
      
    });
    insetHiddenCells.forEach(function (d) {
      const r = cellRect(p, p.urbanX, g, d, '#ccf5ff', { 'shape-rendering': 'crispEdges' });
      
      
    });
    drawUrban(p, g);
    urbanDamageBlobs.forEach(function (d) {
      const r = cellRect(p, p.urbanX, g, d, '#0050a8', { rx: 4, ry: 4 });
      
      
    });
    drawScale('b');
    drawAxes('b');
  })();
  </script>
</svg>
</body>
</html>
